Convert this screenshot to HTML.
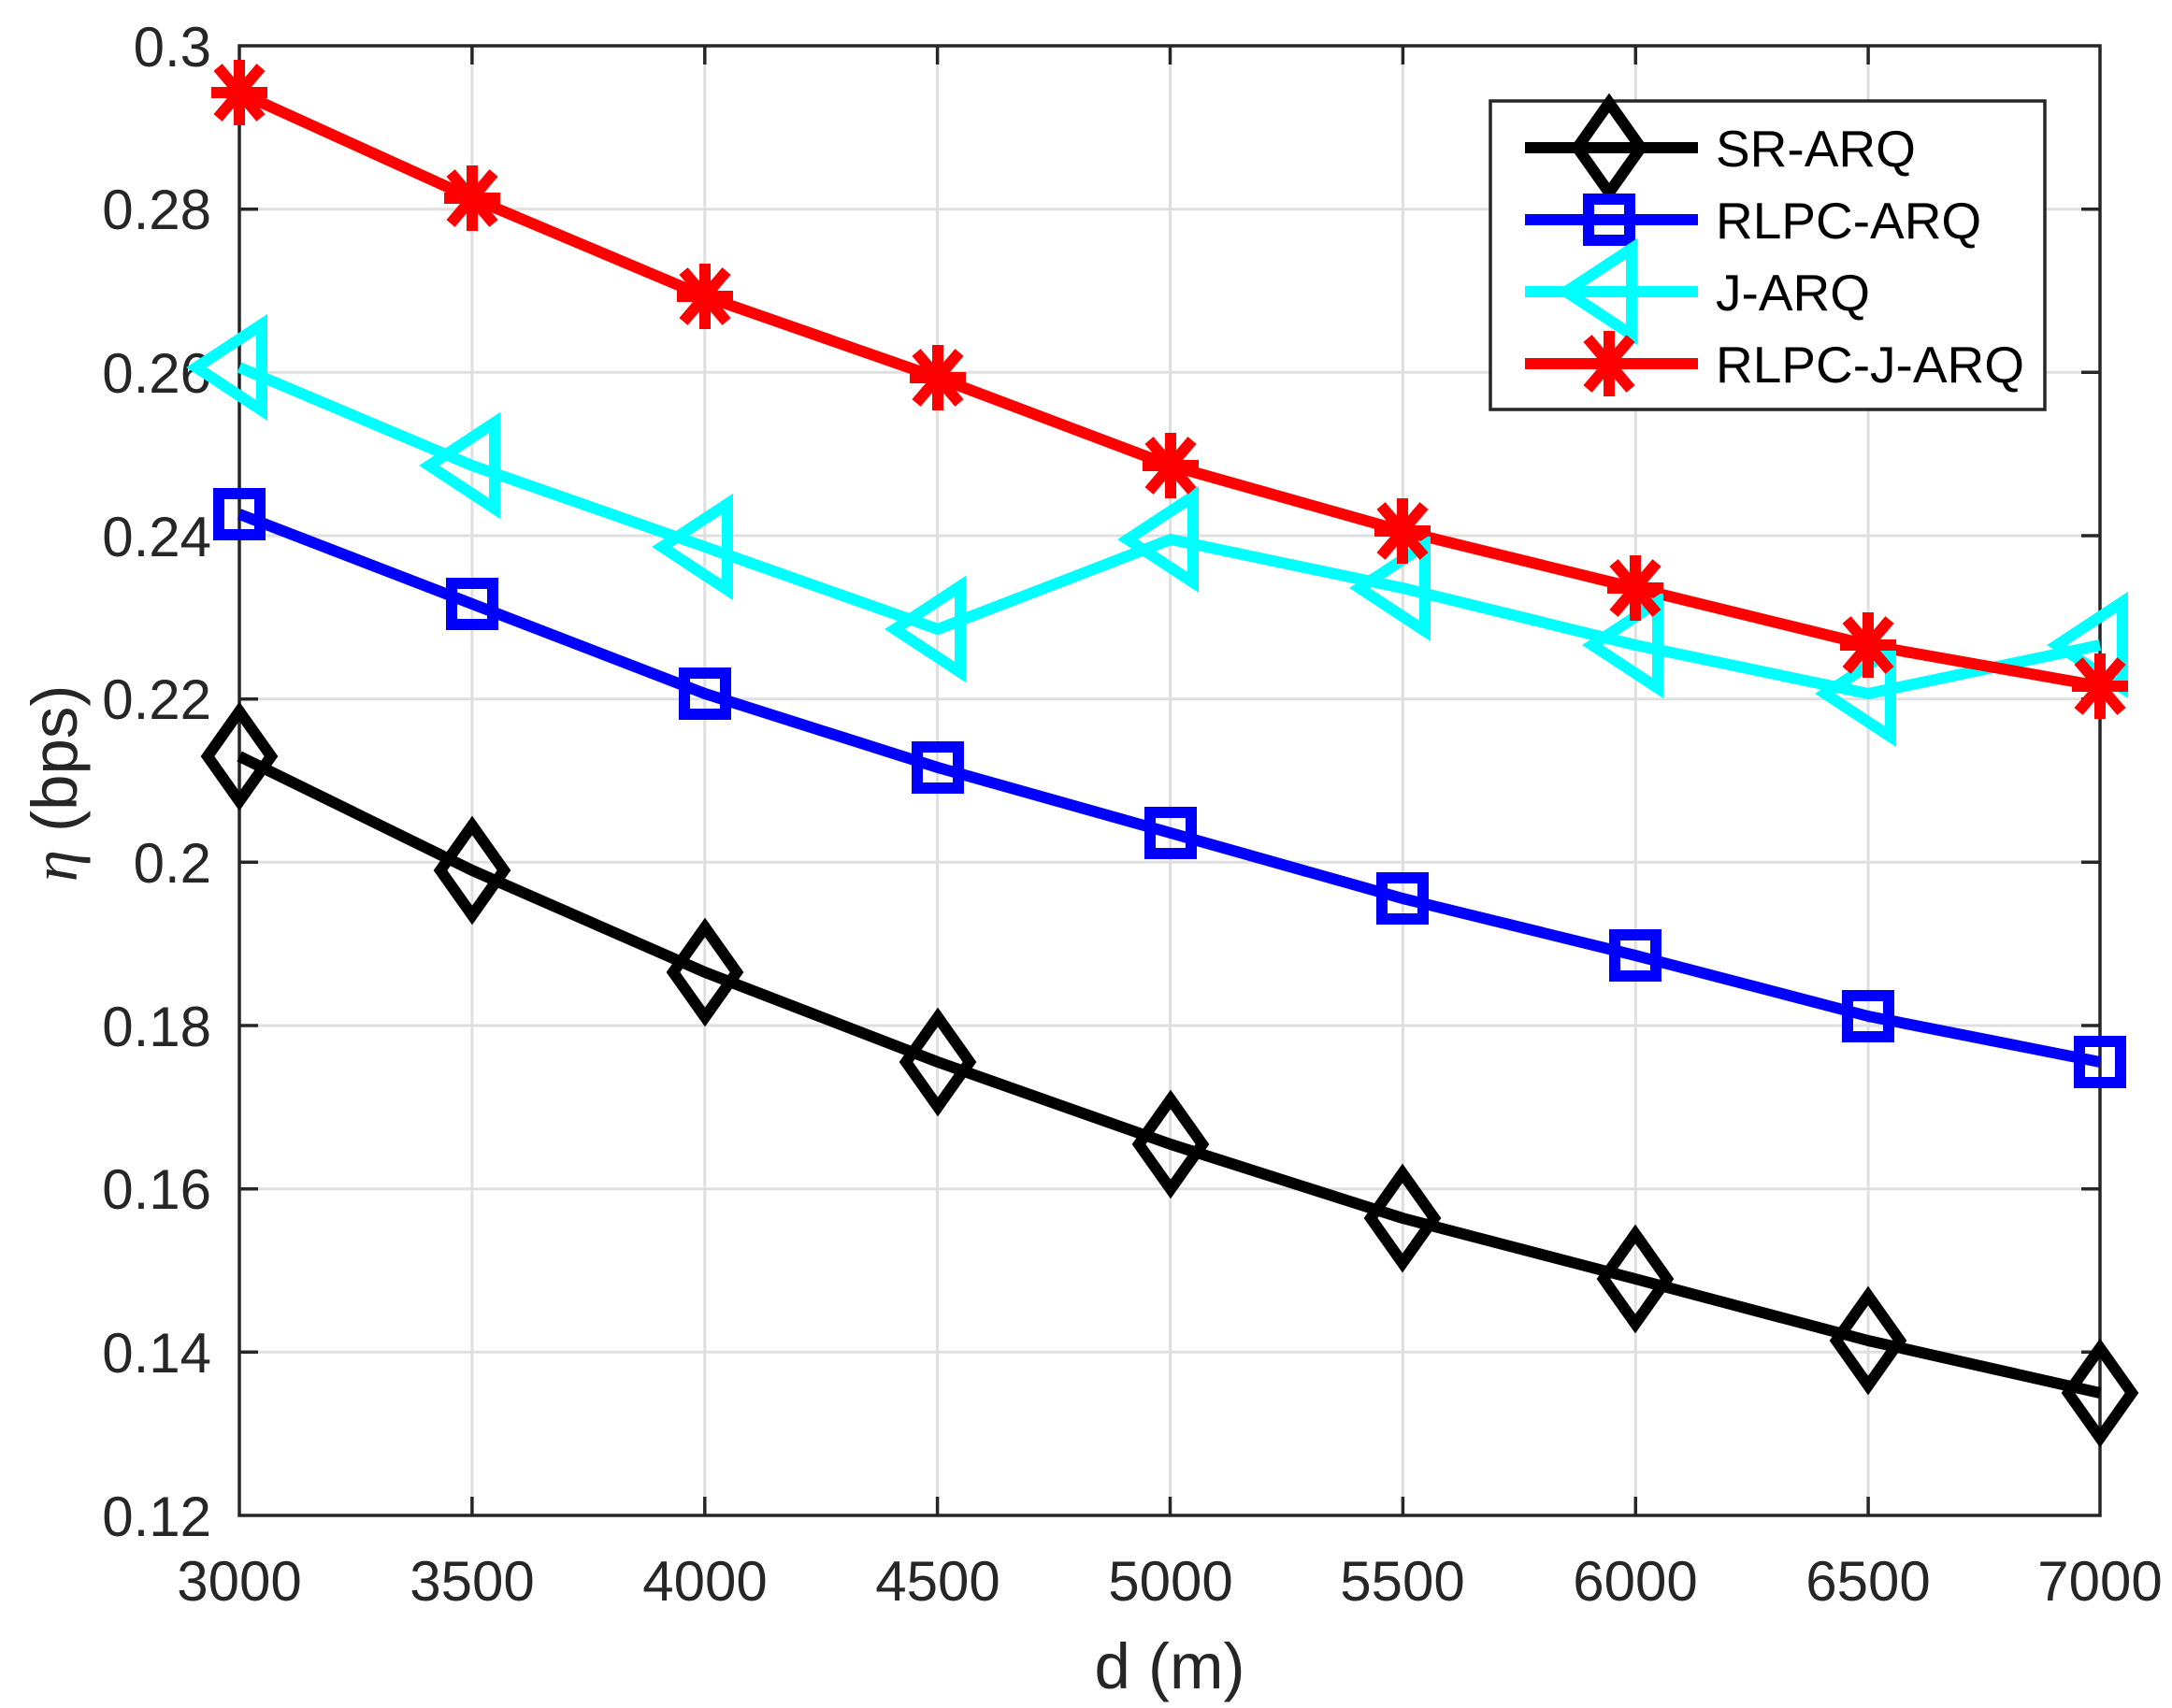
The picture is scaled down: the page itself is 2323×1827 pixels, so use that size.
<!DOCTYPE html>
<html><head><meta charset="utf-8"><style>html,body{margin:0;padding:0;background:#fff}svg{display:block}</style></head><body>
<svg width="2323" height="1827" viewBox="0 0 2323 1827" xmlns="http://www.w3.org/2000/svg" font-family="Liberation Sans, sans-serif">
<defs>
<g id="dia"><polygon points="0,-48 34,0 0,48 -34,0" fill="none" stroke="#000" stroke-width="12"/></g>
<g id="sq"><rect x="-22" y="-22" width="44" height="44" fill="none" stroke="#0000ff" stroke-width="12"/></g>
<g id="tri"><polygon points="-46,0 24,-46 24,46" fill="none" stroke="#00ffff" stroke-width="12"/></g>
<g id="ast" stroke="#ff0000" stroke-width="12"><line x1="0" y1="-35" x2="0" y2="35"/><line x1="-30" y1="0" x2="30" y2="0"/><line x1="-23" y1="-27" x2="23" y2="27"/><line x1="-23" y1="27" x2="23" y2="-27"/></g>
</defs>
<rect width="2323" height="1827" fill="#fff"/>
<g stroke="#dfdfdf" stroke-width="3">
<line x1="504.9" y1="49" x2="504.9" y2="1621"/><line x1="753.8" y1="49" x2="753.8" y2="1621"/><line x1="1002.6" y1="49" x2="1002.6" y2="1621"/><line x1="1251.5" y1="49" x2="1251.5" y2="1621"/><line x1="1500.4" y1="49" x2="1500.4" y2="1621"/><line x1="1749.3" y1="49" x2="1749.3" y2="1621"/><line x1="1998.1" y1="49" x2="1998.1" y2="1621"/>
<line x1="256" y1="223.7" x2="2246" y2="223.7"/><line x1="256" y1="398.3" x2="2246" y2="398.3"/><line x1="256" y1="573" x2="2246" y2="573"/><line x1="256" y1="747.7" x2="2246" y2="747.7"/><line x1="256" y1="922.3" x2="2246" y2="922.3"/><line x1="256" y1="1097" x2="2246" y2="1097"/><line x1="256" y1="1271.7" x2="2246" y2="1271.7"/><line x1="256" y1="1446.3" x2="2246" y2="1446.3"/>
</g>
<g stroke="#262626" stroke-width="3.5">
<rect x="256" y="49" width="1990" height="1572" fill="none"/>
<path d="M504.9 1621v-20M753.8 1621v-20M1002.6 1621v-20M1251.5 1621v-20M1500.4 1621v-20M1749.3 1621v-20M1998.1 1621v-20M504.9 49v20M753.8 49v20M1002.6 49v20M1251.5 49v20M1500.4 49v20M1749.3 49v20M1998.1 49v20"/>
<path d="M256 223.7h20M256 398.3h20M256 573h20M256 747.7h20M256 922.3h20M256 1097h20M256 1271.7h20M256 1446.3h20M2246 223.7h-20M2246 398.3h-20M2246 573h-20M2246 747.7h-20M2246 922.3h-20M2246 1097h-20M2246 1271.7h-20M2246 1446.3h-20"/>
</g>
<g font-size="60" fill="#262626" text-anchor="end">
<text x="226" y="71">0.3</text><text x="226" y="245">0.28</text><text x="226" y="420">0.26</text><text x="226" y="595">0.24</text><text x="226" y="769">0.22</text><text x="226" y="944">0.2</text><text x="226" y="1119">0.18</text><text x="226" y="1293">0.16</text><text x="226" y="1468">0.14</text><text x="226" y="1643">0.12</text>
</g>
<g font-size="60" fill="#262626" text-anchor="middle">
<text x="256" y="1712">3000</text><text x="505" y="1712">3500</text><text x="754" y="1712">4000</text><text x="1003" y="1712">4500</text><text x="1252" y="1712">5000</text><text x="1500" y="1712">5500</text><text x="1749" y="1712">6000</text><text x="1998" y="1712">6500</text><text x="2246" y="1712">7000</text>
<text x="1251" y="1806" font-size="69">d (m)</text>
<text transform="translate(82,838) rotate(-90)" font-size="69"><tspan font-family="Liberation Serif, serif" font-style="italic">η</tspan> (bps)</text>
</g>
<g fill="none" stroke-width="12" stroke-linejoin="round">
<polyline stroke="#000" points="256,809 505,931 754,1040 1003,1136 1252,1224 1500,1303 1749,1368 1998,1434 2246,1490"/>
<polyline stroke="#0000ff" points="256,550 505,646 754,742 1003,821 1252,891 1500,961 1749,1022 1998,1087 2246,1136"/>
<polyline stroke="#00ffff" points="256,393 505,498 754,585 1003,673 1252,577 1500,629 1749,690 1998,742 2246,690"/>
<polyline stroke="#ff0000" points="256,99 505,212 754,317 1003,404 1252,498 1500,568 1749,629 1998,690 2246,734"/>
</g>
<use href="#dia" x="256" y="809"/><use href="#dia" x="505" y="931"/><use href="#dia" x="754" y="1040"/><use href="#dia" x="1003" y="1136"/><use href="#dia" x="1252" y="1224"/><use href="#dia" x="1500" y="1303"/><use href="#dia" x="1749" y="1368"/><use href="#dia" x="1998" y="1434"/><use href="#dia" x="2246" y="1490"/>
<use href="#sq" x="256" y="550"/><use href="#sq" x="505" y="646"/><use href="#sq" x="754" y="742"/><use href="#sq" x="1003" y="821"/><use href="#sq" x="1252" y="891"/><use href="#sq" x="1500" y="961"/><use href="#sq" x="1749" y="1022"/><use href="#sq" x="1998" y="1087"/><use href="#sq" x="2246" y="1136"/>
<use href="#tri" x="256" y="393"/><use href="#tri" x="505" y="498"/><use href="#tri" x="754" y="585"/><use href="#tri" x="1003" y="673"/><use href="#tri" x="1252" y="577"/><use href="#tri" x="1500" y="629"/><use href="#tri" x="1749" y="690"/><use href="#tri" x="1998" y="742"/><use href="#tri" x="2246" y="690"/>
<use href="#ast" x="256" y="99"/><use href="#ast" x="505" y="212"/><use href="#ast" x="754" y="317"/><use href="#ast" x="1003" y="404"/><use href="#ast" x="1252" y="498"/><use href="#ast" x="1500" y="568"/><use href="#ast" x="1749" y="629"/><use href="#ast" x="1998" y="690"/><use href="#ast" x="2246" y="734"/>
<rect x="1594" y="108" width="593" height="330" fill="#fff" stroke="#262626" stroke-width="3.5"/>
<g stroke-width="12">
<line x1="1631" y1="158" x2="1816" y2="158" stroke="#000"/>
<line x1="1631" y1="235" x2="1816" y2="235" stroke="#0000ff"/>
<line x1="1631" y1="312" x2="1816" y2="312" stroke="#00ffff"/>
<line x1="1631" y1="389" x2="1816" y2="389" stroke="#ff0000"/>
</g>
<use href="#dia" x="1721" y="158"/><use href="#sq" x="1721" y="235"/><use href="#tri" x="1721" y="312"/><use href="#ast" x="1721" y="389"/>
<g font-size="55" fill="#000">
<text x="1835" y="178">SR-ARQ</text><text x="1835" y="255">RLPC-ARQ</text><text x="1835" y="332">J-ARQ</text><text x="1835" y="409">RLPC-J-ARQ</text>
</g>
</svg>
</body></html>
